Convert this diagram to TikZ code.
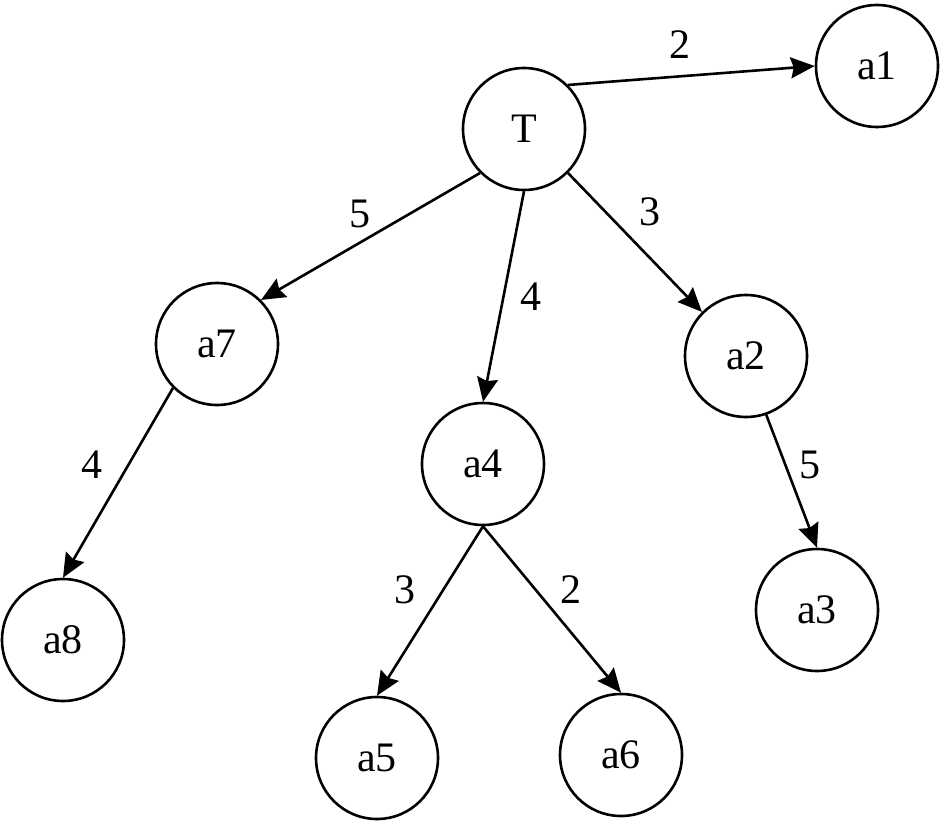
\documentclass[tikz,border=0pt]{standalone}
\usepackage{fontspec}
\setmainfont{Liberation Serif}
\usetikzlibrary{arrows.meta}
\begin{document}
\begin{tikzpicture}[x=1pt,y=-1pt,
  vtx/.style={circle,draw,line width=2.6pt,minimum size=122pt,inner sep=0pt,font=\fontsize{42}{46}\selectfont},
  edge/.style={line width=2.6pt,-{Stealth[length=24pt,width=21pt,inset=3pt]}},
  wlab/.style={font=\fontsize{42}{46}\selectfont}]
\useasboundingbox (0,0) rectangle (940,821);
\node[vtx] (T) at (524,129) {T};
\node[vtx] (a1) at (877,66) {a1};
\node[vtx] (a7) at (217,344) {a7};
\node[vtx] (a4) at (483,464) {a4};
\node[vtx] (a2) at (746,356) {a2};
\node[vtx] (a8) at (63,640) {a8};
\node[vtx] (a5) at (377,758) {a5};
\node[vtx] (a6) at (621,755) {a6};
\node[vtx] (a3) at (817,610) {a3};
\draw[edge] (T.north east) -- (a1.west);
\draw[edge] (T.south west) -- (a7.north east);
\draw[edge] (T.south) -- (a4.north);
\draw[edge] (T.south east) -- (a2.north west);
\draw[edge] (a7.south west) -- (a8.north);
\draw[edge] (a2.-71) -- (a3.north);
\draw[edge] (a4.south) -- (a5.north);
\draw[edge] (a4.south) -- (a6.north);
\node[wlab] (l1) at (680,45) {2};
\node[wlab] (l2) at (360,214) {5};
\node[wlab] (l3) at (531,297) {4};
\node[wlab] (l4) at (650,212) {3};
\node[wlab] (l5) at (92,465) {4};
\node[wlab] (l6) at (810,465) {5};
\node[wlab] (l7) at (405,590) {3};
\node[wlab] (l8) at (571,590) {2};
\end{tikzpicture}
\end{document}
